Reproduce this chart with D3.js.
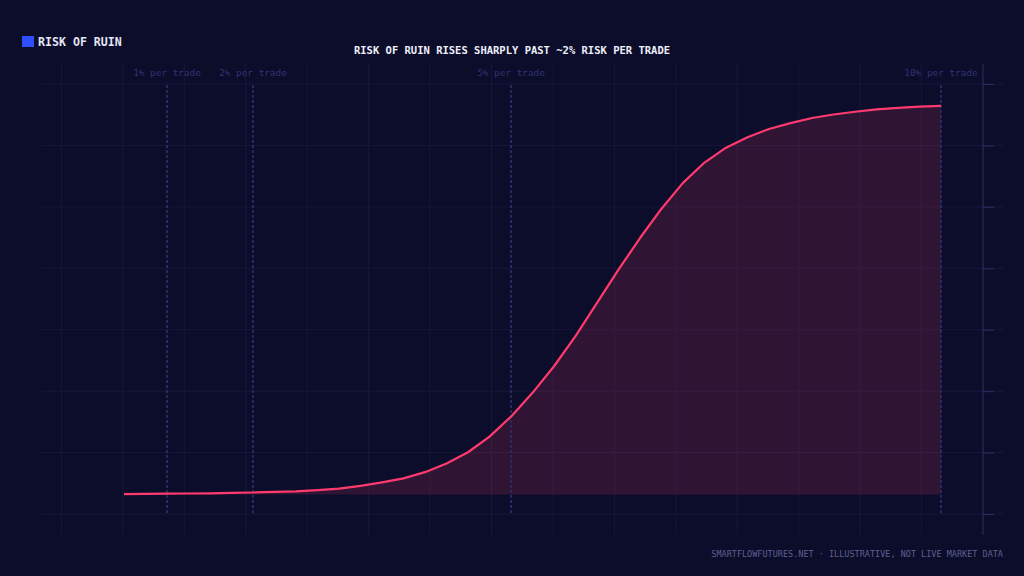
<!DOCTYPE html>
<html>
<head>
<meta charset="utf-8">
<script src="https://cdn.jsdelivr.net/npm/d3@7"></script>
<style>
  html, body { margin: 0; padding: 0; background: #0c0d2b; }
  svg { display: block; }
</style>
</head>
<body>
<script>
// risk per trade (%) and probability of ruin (%)
var riskPct = [0.5, 0.75, 1, 1.25, 1.5, 1.75, 2, 2.25, 2.5, 2.75, 3, 3.25, 3.5, 3.75,
               4, 4.25, 4.5, 4.75, 5, 5.25, 5.5, 5.75, 6, 6.25, 6.5, 6.75, 7, 7.25,
               7.5, 7.75, 8, 8.25, 8.5, 8.75, 9, 9.25, 9.5, 9.75, 10];
var ruinPct = [0.1, 0.15, 0.2, 0.25, 0.3, 0.4, 0.5, 0.65, 0.8, 1.1, 1.5, 2.2, 3.1, 4.1,
               5.7, 7.9, 10.8, 14.8, 19.9, 26.0, 32.8, 40.5, 49.0, 57.5, 65.6, 73.1, 79.7, 84.9,
               88.7, 91.4, 93.5, 95.0, 96.3, 97.2, 97.9, 98.5, 98.9, 99.2, 99.4];
var markerRisk = [1, 2, 5, 10];
var markerLabels = ["1% per trade", "2% per trade", "5% per trade", "10% per trade"];

var title = "RISK OF RUIN RISES SHARPLY PAST ~2% RISK PER TRADE";
var legendLabel = "RISK OF RUIN";
var footer = "SMARTFLOWFUTURES.NET \u00b7 ILLUSTRATIVE, NOT LIVE MARKET DATA";

var width = 1024, height = 576;
var mono = "'DejaVu Sans Mono', 'Liberation Mono', monospace";

var svg = d3.select("body").append("svg")
            .attr("width", width)
            .attr("height", height);

svg.append("rect")
   .attr("width", width)
   .attr("height", height)
   .attr("fill", "#0c0d2b");

// scales
var x = d3.scaleLinear().domain([0, 10]).range([81, 941]);
var y = d3.scaleLinear().domain([-5, 105]).range([514, 84]);
var gridX = d3.scaleLinear().domain([0, 16]).range([0, 983]);
var yTicks = d3.range(8).map(function(i) { return -5 + i * 110 / 7; });

// background grid
var grid = svg.append("g").classed("grid", true);
grid.selectAll("line.v")
    .data(d3.range(1, 16))
    .enter()
      .append("line")
      .classed("v", true)
      .attr("x1", function(d) { return gridX(d); })
      .attr("x2", function(d) { return gridX(d); })
      .attr("y1", 63)
      .attr("y2", 535)
      .attr("stroke", "#16183b")
      .attr("stroke-width", 1);
grid.selectAll("line.h")
    .data(yTicks)
    .enter()
      .append("line")
      .classed("h", true)
      .attr("x1", 41)
      .attr("x2", 1004)
      .attr("y1", function(d) { return y(d); })
      .attr("y2", function(d) { return y(d); })
      .attr("stroke", "#16183b")
      .attr("stroke-width", 1);

// right axis, ticks only
var axis = svg.append("g")
   .attr("transform", "translate(983,0)")
   .call(d3.axisRight(y).tickValues(yTicks).tickSize(11).tickFormat(""));
axis.select(".domain").remove();
axis.selectAll(".tick line").attr("stroke", "#2b2e62");
svg.append("line")
   .attr("x1", 983).attr("x2", 983)
   .attr("y1", 64).attr("y2", 535)
   .attr("stroke", "#2b2e62")
   .attr("stroke-width", 1);

// area + line
var pts = riskPct.map(function(r, i) { return { r: r, v: ruinPct[i] }; });

svg.append("path")
   .datum(pts)
   .attr("fill", "#ff3a6e")
   .attr("fill-opacity", 0.15)
   .attr("d", d3.area()
       .x(function(d) { return x(d.r); })
       .y0(y(0))
       .y1(function(d) { return y(d.v); }));

// marker lines
var markers = svg.append("g").classed("markers", true);
markers.selectAll("line")
   .data(markerRisk)
   .enter()
     .append("line")
     .attr("x1", function(d) { return x(d); })
     .attr("x2", function(d) { return x(d); })
     .attr("y1", y(105) + 1)
     .attr("y2", y(-5))
     .attr("stroke", "#2d306c")
     .attr("stroke-width", 1.6)
     .attr("stroke-dasharray", "3,2");
markers.selectAll("text")
   .data(markerRisk)
   .enter()
     .append("text")
     .attr("x", function(d) { return x(d); })
     .attr("y", 76)
     .attr("text-anchor", "middle")
     .attr("font-family", mono)
     .attr("font-size", "9.4px")
     .attr("fill", "#2f3370")
     .text(function(d, i) { return markerLabels[i]; });

svg.append("path")
   .datum(pts)
   .attr("fill", "none")
   .attr("stroke", "#ff3a6e")
   .attr("stroke-width", 2.2)
   .attr("stroke-linejoin", "round")
   .attr("d", d3.line()
       .x(function(d) { return x(d.r); })
       .y(function(d) { return y(d.v); }));

// legend
svg.append("rect")
   .attr("x", 22).attr("y", 36)
   .attr("width", 12).attr("height", 11)
   .attr("fill", "#2f4fff");
svg.append("text")
   .attr("x", 38).attr("y", 45.5)
   .attr("font-family", mono)
   .attr("font-size", "11.6px")
   .attr("font-weight", "bold")
   .attr("fill", "#e4e6f4")
   .text(legendLabel);

// title
svg.append("text")
   .attr("x", 512).attr("y", 54)
   .attr("text-anchor", "middle")
   .attr("font-family", mono)
   .attr("font-size", "10.5px")
   .attr("font-weight", "bold")
   .attr("fill", "#eef0fa")
   .text(title);

// footer
svg.append("text")
   .attr("x", 1003).attr("y", 557)
   .attr("text-anchor", "end")
   .attr("font-family", mono)
   .attr("font-size", "8.5px")
   .attr("fill", "#5c6090")
   .text(footer);
</script>
</body>
</html>
